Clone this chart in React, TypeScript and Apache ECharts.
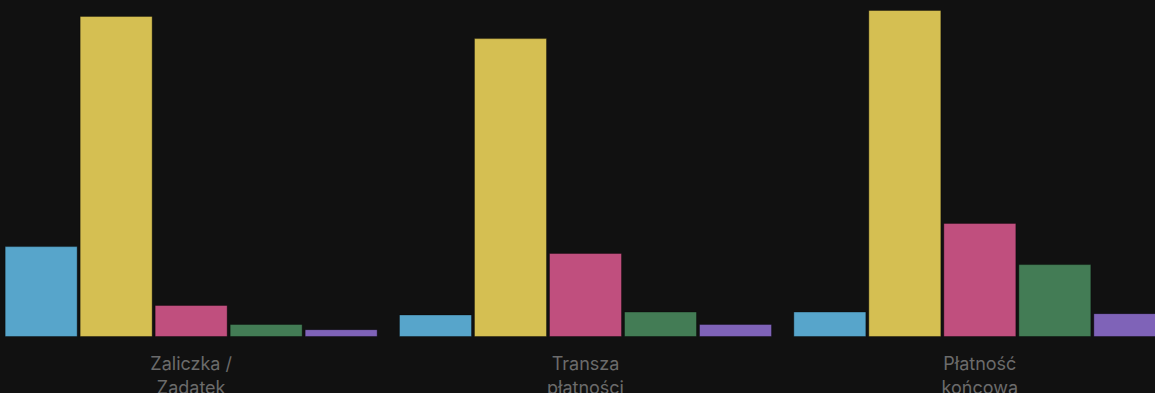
import React, { useEffect, useRef } from "react";
import * as echarts from "echarts";

const categories = ["Zaliczka /\nZadatek", "Transza\npłatności", "Płatność\nkońcowa"];
const seriesNames = ["Seria A", "Seria B", "Seria C", "Seria D", "Seria E"];
const seriesA = [27.8, 6.9, 7.8];
const seriesB = [98.2, 91.4, 100];
const seriesC = [9.8, 25.7, 34.9];
const seriesD = [4.0, 7.8, 22.3];
const seriesE = [2.4, 4.0, 7.3];
const seriesValues = [seriesA, seriesB, seriesC, seriesD, seriesE];
const colors = ["#57a5cb", "#d5bf52", "#c04f7e", "#437c55", "#7f63b8"];

export default function App() {
  const ref = useRef<HTMLDivElement>(null);
  useEffect(() => {
    if (!ref.current) return;
    const chart = echarts.init(ref.current, undefined, { renderer: "svg" });
    chart.setOption({
      animation: false,
      backgroundColor: "#111111",
      grid: {
        left: 0,
        right: 0,
        top: 10,
        bottom: 56,
        containLabel: false,
        outerBoundsMode: "none",
      },
      xAxis: {
        type: "category",
        data: categories,
        axisLine: { show: false },
        axisTick: { show: false },
        splitLine: { show: false },
        axisLabel: {
          color: "#6b6b6b",
          fontSize: 18,
          lineHeight: 24,
          margin: 14,
          fontFamily: "Inter, 'Noto Sans', sans-serif",
        },
      },
      yAxis: {
        type: "value",
        min: 0,
        max: 100,
        show: false,
        splitLine: { show: false },
      },
      series: seriesValues.map((vals, i) => ({
        type: "bar",
        name: seriesNames[i],
        data: vals,
        barCategoryGap: "5.4%",
        barGap: "2.7%",
        itemStyle: {
          color: colors[i],
          borderColor: "rgba(0,0,0,0.35)",
          borderWidth: 1,
        },
      })),
    });
    return () => chart.dispose();
  }, []);
  return (
    <div
      style={{
        position: "fixed",
        left: 0,
        top: 0,
        width: 1155,
        height: 393,
        overflow: "hidden",
        background: "#111111",
      }}
    >
      <div
        ref={ref}
        style={{ position: "absolute", left: -6, top: 0, width: 1183, height: 393 }}
      />
    </div>
  );
}
